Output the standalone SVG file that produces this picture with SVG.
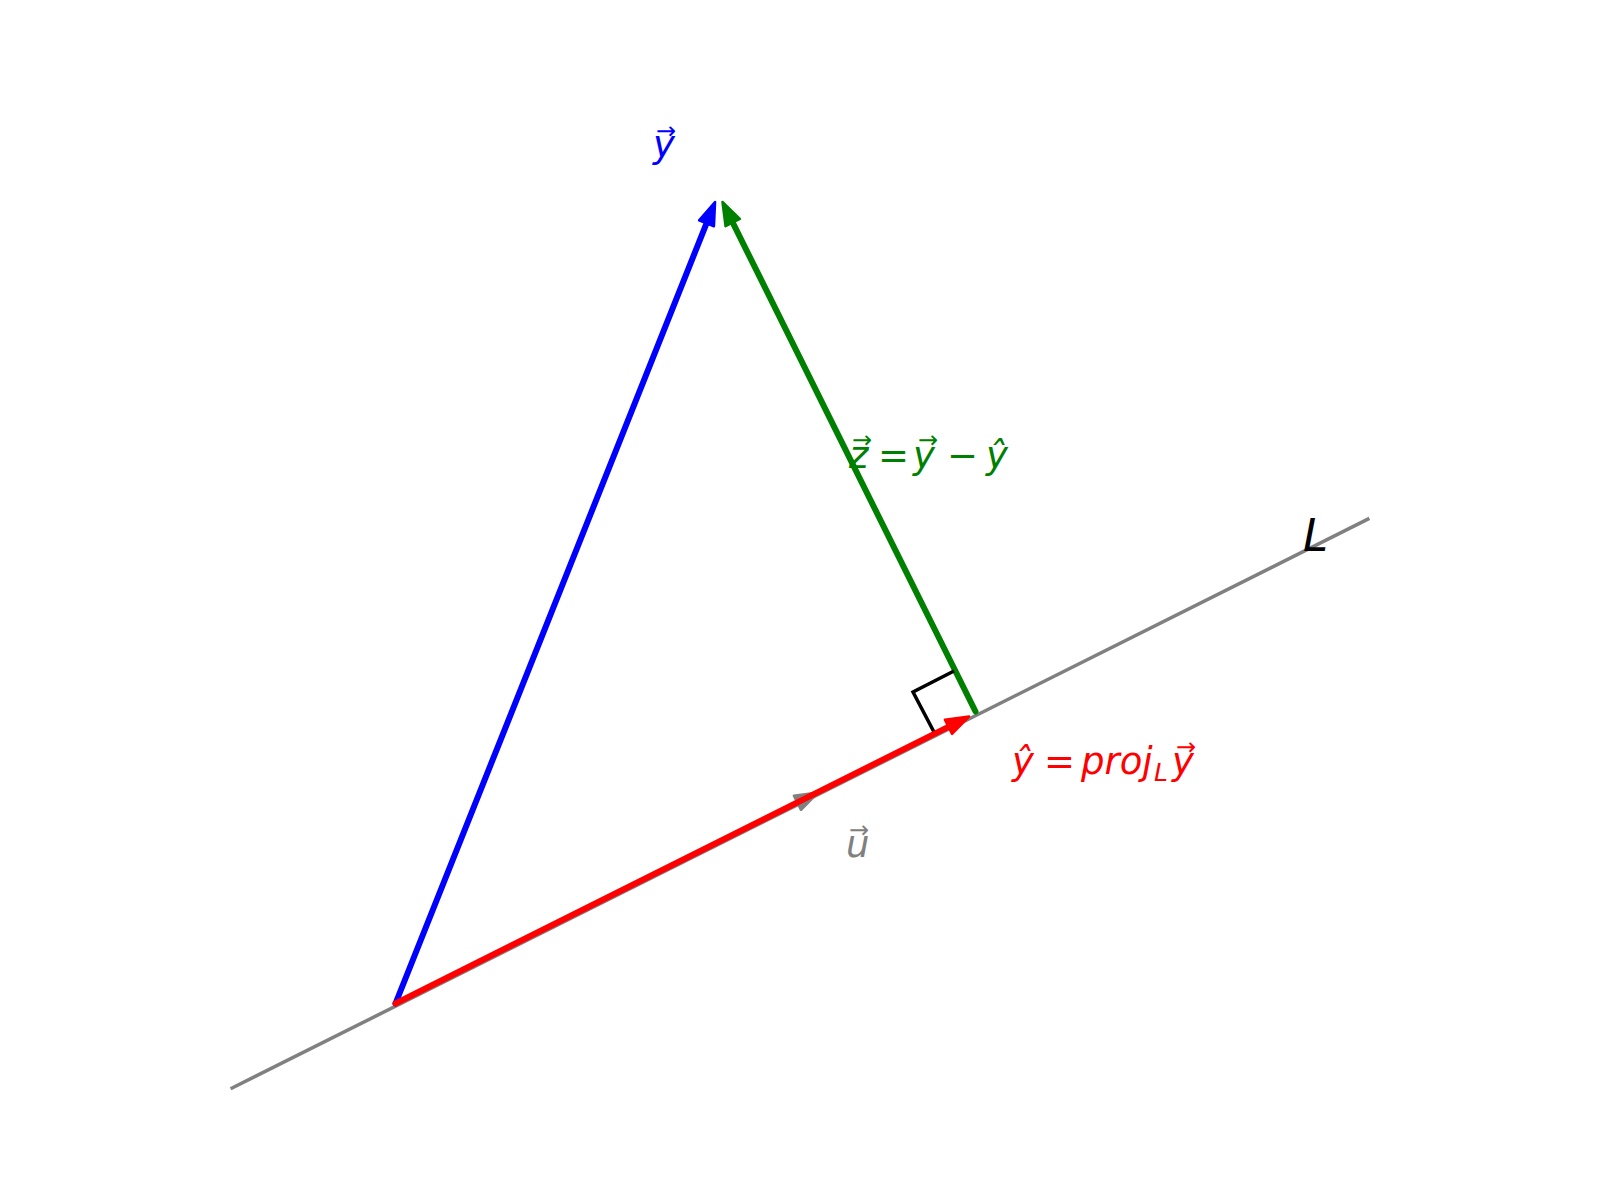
<svg xmlns="http://www.w3.org/2000/svg" width="1600" height="1200" viewBox="0 0 1600 1200">
<style>
.ln{fill:none;stroke-linecap:round}
.lbl{font-family:"DejaVu Sans","Liberation Sans",sans-serif;font-size:37px}
.it{font-style:italic}
.sub{font-size:25px}
.big{font-size:45px}
.acc{font-family:"DejaVu Sans","Liberation Sans",sans-serif;font-size:24px}
</style>
<defs>
<marker id="hb" markerUnits="userSpaceOnUse" orient="auto" refX="0" refY="0" overflow="visible"><path d="M-11,-8 L12,0 L-11,8 Z" fill="#0000ff" stroke="#0000ff" stroke-width="2.5" stroke-linejoin="round"/></marker>
<marker id="hg" markerUnits="userSpaceOnUse" orient="auto" refX="0" refY="0" overflow="visible"><path d="M-11,-8 L12,0 L-11,8 Z" fill="#008000" stroke="#008000" stroke-width="2.5" stroke-linejoin="round"/></marker>
<marker id="hr" markerUnits="userSpaceOnUse" orient="auto" refX="0" refY="0" overflow="visible"><path d="M-11,-8 L12,0 L-11,8 Z" fill="#ff0000" stroke="#ff0000" stroke-width="2.5" stroke-linejoin="round"/></marker>
<marker id="hk" markerUnits="userSpaceOnUse" orient="auto" refX="0" refY="0" overflow="visible"><path d="M-11,-8 L12,0 L-11,8 Z" fill="#808080" stroke="#808080" stroke-width="2.5" stroke-linejoin="round"/></marker>
</defs>
<rect width="1600" height="1200" fill="#ffffff"/>
<g id="connectors">
<line id="lineL" x1="230.6" y1="1088.8" x2="1369.4" y2="518.4" stroke="#808080" stroke-width="3.5"/>
<line id="vec-u" class="ln" x1="395.5" y1="1003.5" x2="807.3" y2="797.9" stroke="#808080" stroke-width="4" marker-end="url(#hk)"/>
<line id="vec-y" class="ln" x1="395.5" y1="1003.5" x2="710.6" y2="213.1" stroke="#0000ff" stroke-width="6" marker-end="url(#hb)"/>
<line id="vec-z" class="ln" x1="975.5" y1="711.5" x2="727.8" y2="212.7" stroke="#008000" stroke-width="6" marker-end="url(#hg)"/>
<polyline id="right-angle" points="954,671 913,692 934,732" fill="none" stroke="#000000" stroke-width="3.5"/>
<line id="vec-yhat" class="ln" x1="395.5" y1="1003.5" x2="958.3" y2="721.9" stroke="#ff0000" stroke-width="6" marker-end="url(#hr)"/>
</g>
<g id="label-y" fill="#0000ff">
<text class="lbl it" x="653" y="157">y</text>
<text class="acc" x="656" y="139">→</text>
</g>
<g id="label-z" fill="#008000">
<text class="lbl it" x="849" y="468">z</text>
<text class="acc" x="852" y="448">→</text>
<text class="lbl" x="878" y="468">=</text>
<text class="lbl it" x="913" y="468">y</text>
<text class="acc" x="918" y="448">→</text>
<text class="lbl" x="947" y="468">−</text>
<text class="lbl it" x="986" y="468">ŷ</text>
</g>
<g id="label-yhat" fill="#ff0000">
<text class="lbl it" x="1012" y="774">ŷ</text>
<text class="lbl" x="1044" y="774">=</text>
<text class="lbl it" x="1081" y="774">proj</text>
<text class="lbl it sub" x="1154" y="781">L</text>
<text class="lbl it" x="1172" y="774">y</text>
<text class="acc" x="1176" y="755">→</text>
</g>
<g id="label-u" fill="#808080">
<text class="lbl it" x="846" y="857">u</text>
<text class="acc" x="849" y="838">→</text>
</g>
<g id="label-L" fill="#000000">
<text class="lbl it big" x="1303" y="551">L</text>
</g>
</svg>
